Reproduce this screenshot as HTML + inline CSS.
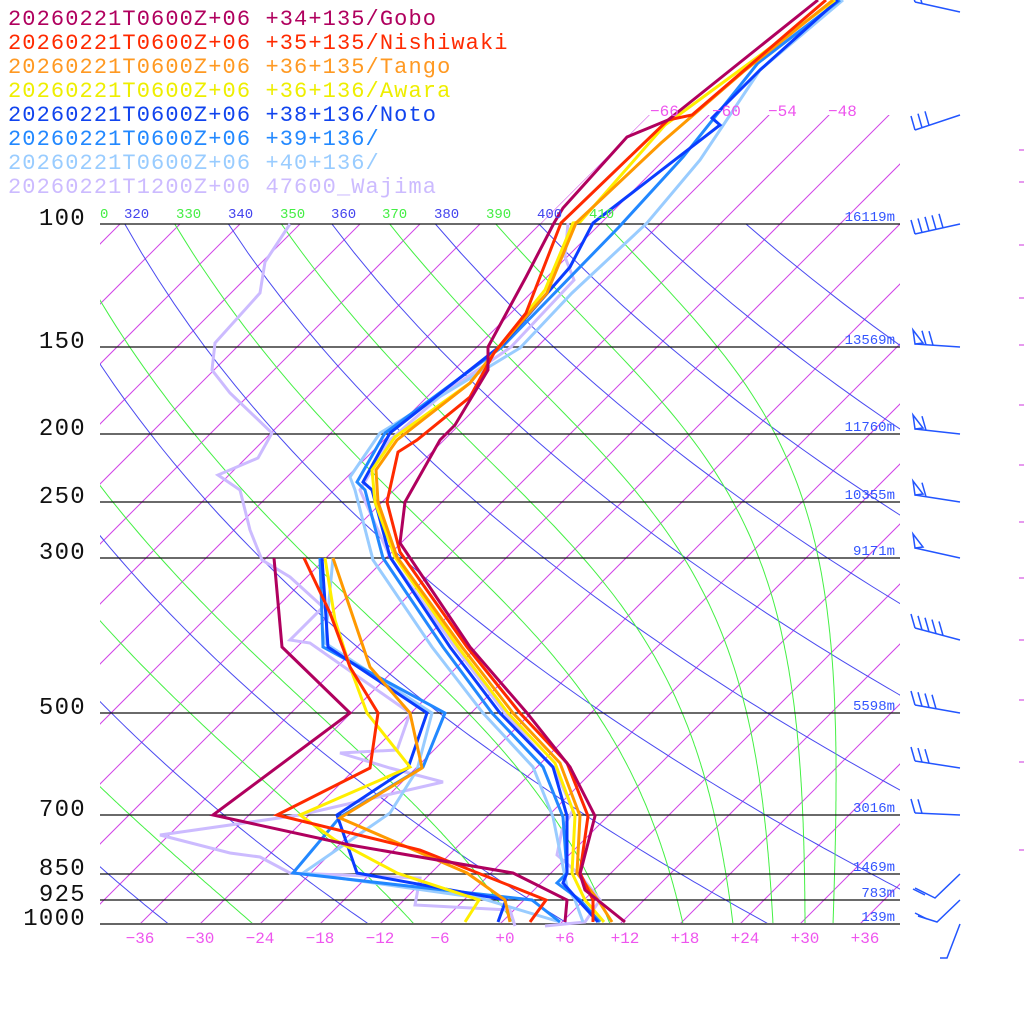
<!DOCTYPE html>
<html><head><meta charset="utf-8"><style>
html,body{margin:0;padding:0;background:#fff;width:1024px;height:1024px;overflow:hidden}
svg{display:block}
text{font-family:"Liberation Mono","DejaVu Sans Mono",monospace}
</style></head><body>
<svg id="s" width="1024" height="1024" viewBox="0 0 1024 1024" xmlns="http://www.w3.org/2000/svg">
<defs>
<clipPath id="plot"><rect x="100" y="224" width="800" height="700"/></clipPath>
<clipPath id="iso"><polygon points="100,224 540,224 649,115 900,115 900,924 100,924"/></clipPath>
</defs>
<g id="bg"></g>
<g id="hl"></g>
<g id="ser" stroke-width="3" fill="none" stroke-linejoin="miter"></g>
<g id="txt"></g>
<g id="barb" stroke="#2255ff" stroke-width="1.5" fill="none"></g>
</svg>
<script>
var NS="http://www.w3.org/2000/svg";
function el(p,t,a,txt){var e=document.createElementNS(NS,t);for(var k in a)e.setAttribute(k,a[k]);if(txt!==undefined)e.textContent=txt;p.appendChild(e);return e;}
var bg=document.getElementById('bg'),hl=document.getElementById('hl'),ser=document.getElementById('ser'),tx=document.getElementById('txt'),bb=document.getElementById('barb');
function Y(p){return 224+304*Math.log(p/100);}
function X(T,y){return 500+10*T+(924-y);}
// isotherms
var gi=el(bg,'g',{'clip-path':'url(#iso)',stroke:'#d045e6','stroke-width':'1'});
for(var T=-150;T<=40;T+=6){var y1=924,y2=0;el(gi,'line',{x1:X(T,y1),y1:y1,x2:X(T,y2),y2:y2});}
// dry adiabats
var gd=el(bg,'g',{'clip-path':'url(#plot)',stroke:'#4a4af0','stroke-width':'1',fill:'none'});
for(var th=240;th<=440;th+=20){var pts=[];for(var p=100;p<=1000;p+=10){var t=th*Math.pow(p/1000,0.286)-273.15;var y=Y(p);pts.push(X(t,y).toFixed(1)+','+y.toFixed(1));}el(gd,'polyline',{points:pts.join(' ')});}
// moist adiabats (integrated upward from 1000 hPa)
var gm=el(bg,'g',{'clip-path':'url(#plot)',stroke:'#44f044','stroke-width':'1',fill:'none'});
function es(tc){return 6.112*Math.exp(17.67*tc/(tc+243.5));}
[33.3,30.5,27.3,23.3,18.3,11,1.4,-8.6,-24.7].forEach(function(t0){var Tk=t0+273.15;var pts=[];var p=1000;
 while(p>=100){var y=Y(p);pts.push(X(Tk-273.15,y).toFixed(1)+','+y.toFixed(1));
  for(var k=0;k<5;k++){var tc=Tk-273.15;var e=es(tc);var rs=0.622*e/(p-e);var dTdp=(287*Tk+2.5e6*rs)/(p*(1004+2.5e6*2.5e6*rs*0.622/(287*Tk*Tk)));Tk-=dTdp*1;p-=1;}
 }
 el(gm,'polyline',{points:pts.join(' ')});});
// horizontal lines
var lev=[[100,224,'100','16119m'],[150,347,'150','13569m'],[200,434,'200','11760m'],[250,502,'250','10355m'],[300,558,'300','9171m'],[500,713,'500','5598m'],[700,815,'700','3016m'],[850,874,'850','1469m'],[925,900,'925','783m'],[1000,924,'1000','139m']];
lev.forEach(function(l){el(hl,'line',{x1:100,y1:l[1],x2:900,y2:l[1],stroke:(l[0]==1000?'#666':'#111'),'stroke-width':(l[0]==1000?2:1.2)});
 el(tx,'text',{x:86,y:l[1]+1,'text-anchor':'end','font-size':24,'letter-spacing':'1.3',fill:'#111'},l[2]);
 el(tx,'text',{x:895,y:l[1]-3,'text-anchor':'end','font-size':14,fill:'#3355ff'},l[3]);});
// bottom tick labels
for(var T=-36;T<=36;T+=6){var s=(T>0?'+':(T==0?'+':'−'))+Math.abs(T);el(tx,'text',{x:500+10*T+(T>=0?5:0),y:943,'text-anchor':'middle','font-size':16,fill:'#ee55ee'},s);}
// top isotherm labels
[[-66,650],[-60,712],[-54,768],[-48,828]].forEach(function(a){el(tx,'text',{x:a[1],y:116,'font-size':16,fill:'#ee55ee'},'−'+Math.abs(a[0]));});
// theta labels
var tl=[[310,100,'#44ee44','0'],[320,124,'#4444ee'],[330,176,'#44ee44'],[340,228,'#4444ee'],[350,280,'#44ee44'],[360,331,'#4444ee'],[370,382,'#44ee44'],[380,434,'#4444ee'],[390,486,'#44ee44'],[400,537,'#4444ee'],[410,589,'#44ee44']];
tl.forEach(function(a){el(tx,'text',{x:a[1],y:218,'font-size':14,fill:a[2]},a[3]||a[0]);});
// legend
var leg=[['#b0005e','20260221T0600Z+06 +34+135/Gobo'],['#ff2a00','20260221T0600Z+06 +35+135/Nishiwaki'],['#ff9922','20260221T0600Z+06 +36+135/Tango'],['#eeee00','20260221T0600Z+06 +36+136/Awara'],['#1144ee','20260221T0600Z+06 +38+136/Noto'],['#2288ff','20260221T0600Z+06 +39+136/'],['#99ccff','20260221T0600Z+06 +40+136/'],['#ccbbff','20260221T1200Z+00 47600_Wajima']];
leg.forEach(function(l,i){el(tx,'text',{x:8,y:25+i*24,'font-size':22,'letter-spacing':'1.1',fill:l[0]},l[1]);});
// series
var S=[
['#ccbbff',"545,926 585,922 600,900 580,875 557,855 562,830 573,810 555,770 505,713 455,647 390,557 360,490 390,440 444,393 511,347 574,280 565,257 568,223",
 "290,224 265,262 260,293 215,343 212,370 230,393 272,433 258,458 218,475 240,490 250,530 262,560 290,577 323,607 290,640 310,643 410,713 397,750 340,753 390,768 443,782 300,815 160,835 230,853 260,857 290,873 420,878 415,905 510,910 515,926"],
['#99ccff',"583,922 575,900 567,887 553,817 533,767 483,713 432,647 373,560 355,490 350,477 380,433 520,348 572,293 647,223 700,160 760,70 843,0",
 "333,558 325,643 432,713 417,770 390,813 303,873 480,898 560,922"],
['#2288ff',"600,922 580,900 557,883 567,873 563,817 543,767 492,713 443,647 383,558 365,490 357,482 385,433 502,347 619,227 683,157 758,63 840,0",
 "320,558 323,647 445,713 423,767 340,817 293,873 532,900 560,922"],
['#0a3cff',"598,922 578,900 563,883 567,873 567,816 553,767 500,713 450,647 390,557 372,490 363,482 390,433 504,343 570,267 593,223 720,125 712,118 760,70 838,0",
 "322,558 328,647 427,713 408,768 337,815 357,873 506,900 498,922"],
['#ffee00',"604,922 585,900 572,873 575,816 555,763 508,713 458,647 395,557 375,502 372,470 395,437 470,383 494,353 545,290 573,223 580,222 665,125 740,70 835,0",
 "325,558 335,620 350,667 367,713 410,767 300,815 335,840 397,873 479,900 465,922"],
['#ff9900',"612,922 598,900 577,873 580,816 560,763 513,713 462,647 397,557 378,502 376,470 397,440 470,383 494,353 547,293 576,223 661,143 743,72 833,0",
 "333,558 370,667 410,713 422,768 340,818 467,873 505,900 510,922"],
['#ff2a00',"593,922 593,900 580,873 588,816 567,763 520,713 467,647 400,552 387,502 398,452 417,440 470,397 494,353 526,313 561,223 668,120 692,115 826,0",
 "304,558 330,613 350,667 378,713 370,768 277,815 420,850 546,900 530,922"],
['#b0005e',"625,922 585,890 580,874 587,847 595,816 570,767 527,713 470,647 400,543 405,502 440,440 455,425 488,370 488,347 526,277 554,223 563,208 627,137 668,120 818,0",
 "274,558 282,647 350,713 213,815 350,845 513,873 567,900 565,922"]];
S.forEach(function(s){el(ser,'polyline',{points:s[1],stroke:s[0]});el(ser,'polyline',{points:s[2],stroke:s[0]});});
// wind barbs
function barb(y,dy,n,flag){var x0=960,y0=y,x1=915,y1=y+dy;el(bb,'line',{x1:x0,y1:y0,x2:x1,y2:y1});
 var ux=(x0-x1)/45,uy=(y0-y1)/45;var i=0;
 if(flag){el(bb,'polygon',{points:x1+','+y1+' '+(x1-2)+','+(y1-14)+' '+(x1+8)+','+(y1-1)});i=1;}
 for(var k=0;k<n;k++){var bx=x1+ux*(i*7+ (flag?4:0)),by=y1+uy*(i*7+(flag?4:0));el(bb,'line',{x1:bx,y1:by,x2:bx-4,y2:by-14});i++;}}
barb(12,-10,2,false);barb(115,15,3,false);barb(224,10,5,false);barb(347,-3,2,true);barb(434,-5,1,true);barb(502,-7,1,true);barb(558,-10,0,true);
barb(640,-12,5,false);barb(713,-8,4,false);barb(768,-7,3,false);barb(815,-2,2,false);
el(bb,'polyline',{points:'960,874 935,898 915,888'});el(bb,'line',{x1:925,y1:895,x2:913,y2:889});
el(bb,'polyline',{points:'960,900 937,922 918,916'});el(bb,'line',{x1:927,y1:919,x2:915,y2:913});
el(bb,'polyline',{points:'960,924 947,958 940,958'});
[150,182,245,298,345,405,465,522,578,640,700,762,850].forEach(function(y){el(bg,'line',{x1:1019,y1:y,x2:1024,y2:y,stroke:'#cc33dd','stroke-width':1});});
</script>
</body></html>
